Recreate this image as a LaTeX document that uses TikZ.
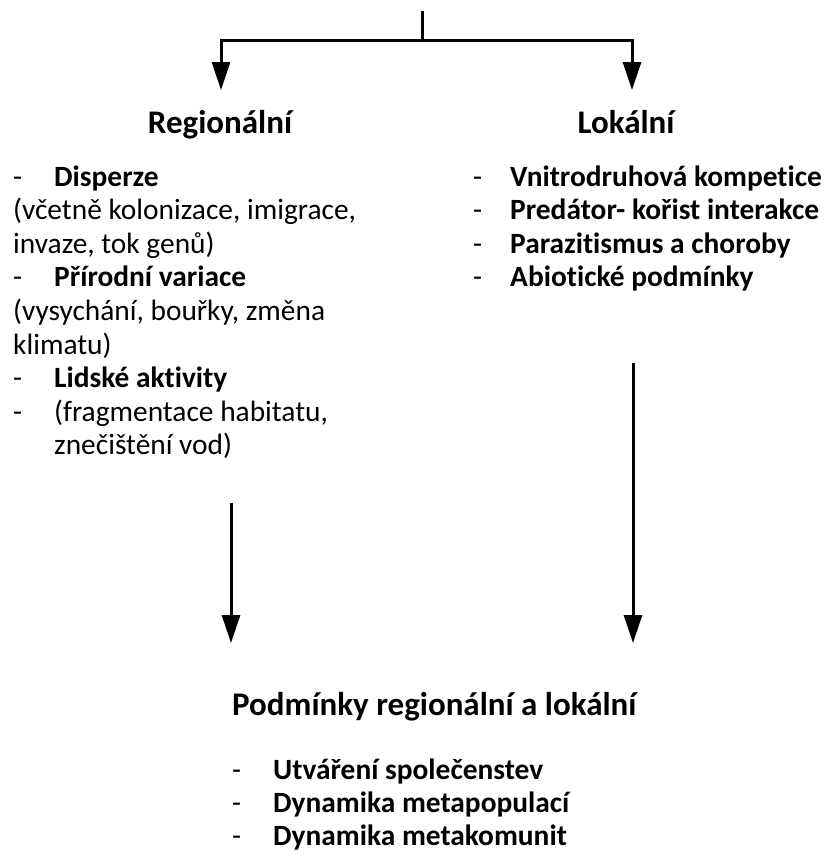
\documentclass[tikz,border=0pt]{standalone}
\usepackage{fontspec}
\setmainfont{Carlito}[Ligatures=NoCommon]
\usetikzlibrary{arrows.meta}
\begin{document}
\begin{tikzpicture}[x=1pt,y=-1pt,
  conn/.style={line width=3pt, line join=miter},
  tip/.tip={Triangle[width=18pt,length=28pt]},
  arr/.style={conn, -tip},
  head/.style={inner sep=0pt, anchor=base, font=\fontsize{33}{40}\selectfont\bfseries},
  body/.style={inner sep=0pt, anchor=base west, font=\fontsize{29.4}{34}\selectfont},
  bbody/.style={inner sep=0pt, anchor=base west, font=\fontsize{29.4}{34}\selectfont\bfseries},
]
\useasboundingbox (0,0) rectangle (829,865);

% fork at the top
\coordinate (top) at (422,11);
\coordinate (split) at (422,40);
\coordinate (lfork) at (221,40);
\coordinate (rfork) at (632,40);
\coordinate (lend) at (221,90);
\coordinate (rend) at (632,90);
\draw[conn] (top) -- (split);
\draw[conn, tip-tip] (lend) -- (lfork) -- (rfork) -- (rend);

% column headings
\node[head] (reg) at (220,133) {Regionální};
\node[head] (lok) at (626,133) {Lokální};

% regional factors
\node[body]  (ld1) at (13,186)   {-};
\node[bbody] (l1)  at (54,186)   {Disperze};
\node[body]  (l2)  at (13,219.6) {(včetně kolonizace, imigrace,};
\node[body]  (l3)  at (13,253.2) {invaze, tok genů)};
\node[body]  (ld4) at (13,286.8) {-};
\node[bbody] (l4)  at (54,286.8) {Přírodní variace};
\node[body]  (l5)  at (13,320.4) {(vysychání, bouřky, změna};
\node[body]  (l6)  at (13,354)   {klimatu)};
\node[body]  (ld7) at (13,387.6) {-};
\node[bbody] (l7)  at (54,387.6) {Lidské aktivity};
\node[body]  (ld8) at (13,421.2) {-};
\node[body]  (l8)  at (54,421.2) {(fragmentace habitatu,};
\node[body]  (l9)  at (54,454.8) {znečištění vod)};

% local factors
\node[body]  (rd1) at (473,186)   {-};
\node[bbody] (r1)  at (510,186)   {Vnitrodruhová kompetice};
\node[body]  (rd2) at (473,219.6) {-};
\node[bbody] (r2)  at (510,219.6) {Predátor- kořist interakce};
\node[body]  (rd3) at (473,253.2) {-};
\node[bbody] (r3)  at (510,253.2) {Parazitismus a choroby};
\node[body]  (rd4) at (473,286.8) {-};
\node[bbody] (r4)  at (510,286.8) {Abiotické podmínky};

% arrows towards the combined outcome
\coordinate (la0) at (231,503);
\coordinate (la1) at (231,643);
\coordinate (ra0) at (633,363);
\coordinate (ra1) at (633,643);
\draw[arr] (la0) -- (la1);
\draw[arr] (ra0) -- (ra1);

% combined outcome
\node[head, anchor=base west] (sum) at (232,715) {Podmínky regionální a lokální};
\node[body]  (bd1) at (232,779) {-};
\node[bbody] (b1)  at (273,779) {Utváření společenstev};
\node[body]  (bd2) at (232,812) {-};
\node[bbody] (b2)  at (273,812) {Dynamika metapopulací};
\node[body]  (bd3) at (232,845) {-};
\node[bbody] (b3)  at (273,845) {Dynamika metakomunit};
\end{tikzpicture}
\end{document}
